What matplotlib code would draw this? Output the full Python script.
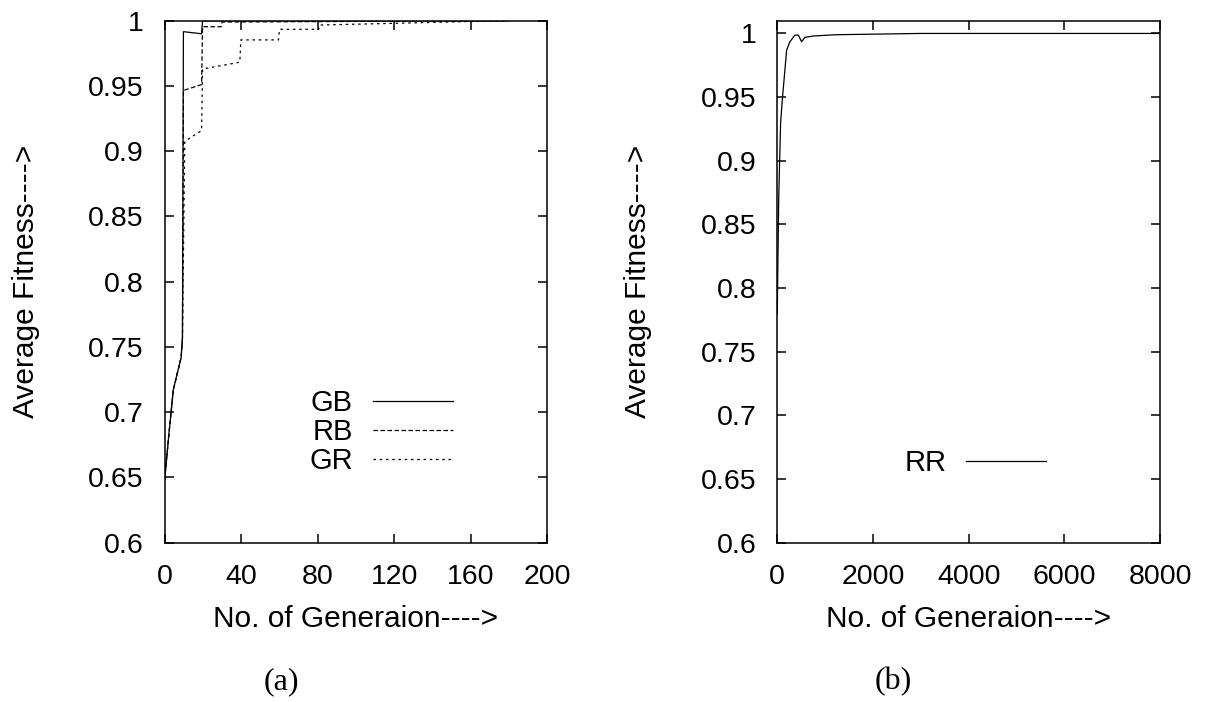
import matplotlib
matplotlib.use("Agg")
import matplotlib.pyplot as plt

# panel (a): average fitness vs generation for three crossover variants
gen_gb = [0, 2, 4.5, 8.6, 9.3, 9.8, 19.3, 19.8, 180]
fit_gb = [0.648, 0.68, 0.717, 0.742, 0.757, 0.9916, 0.990, 1.0, 1.0]

gen_rb = [0, 2, 4.5, 8.6, 9.3, 9.8, 19.3, 19.8, 29.5, 30, 180]
fit_rb = [0.648, 0.68, 0.717, 0.742, 0.757, 0.9466, 0.951, 0.9954, 0.9954, 0.999, 1.0]

gen_gr = [0, 2, 4.5, 8.6, 9.3, 10.5, 19.3, 19.8, 39.3, 39.8, 59.5, 60, 80.5, 81, 120, 148, 178]
fit_gr = [0.648, 0.68, 0.717, 0.742, 0.757, 0.9076, 0.9158, 0.963, 0.9682, 0.9853,
          0.9853, 0.9934, 0.9934, 0.9967, 0.998, 0.999, 1.0]

# panel (b): RR over the long run
gen_rr = [0, 30, 70, 110, 196, 265, 369, 440, 508, 577, 750, 1237, 3000, 8000]
fit_rr = [0.78, 0.87, 0.93, 0.95, 0.987, 0.9935, 0.9987, 0.9987, 0.9935, 0.9969, 0.998, 0.999, 1.0, 1.0]

yticks = [0.6, 0.65, 0.7, 0.75, 0.8, 0.85, 0.9, 0.95, 1.0]
ytick_labels = ["0.6", "0.65", "0.7", "0.75", "0.8", "0.85", "0.9", "0.95", "1"]
xticks_a = [0, 40, 80, 120, 160, 200]
xticks_b = [0, 2000, 4000, 6000, 8000]

plt.rcParams["font.family"] = ["Liberation Sans", "DejaVu Sans"]

fig = plt.figure(figsize=(12.09, 7.02), dpi=100)
ax1 = fig.add_axes([0.1362, 0.2269, 0.3165, 0.7436])
ax2 = fig.add_axes([0.6429, 0.2269, 0.3166, 0.7436])


def style(ax, xticks):
    for s in ax.spines.values():
        s.set_linewidth(1.1)
    ax.set_yticks(yticks)
    ax.set_yticklabels(ytick_labels)
    ax.set_xticks(xticks)
    ax.tick_params(direction="in", length=6.5, width=1.1, labelsize=20.5,
                   top=True, right=True, pad=15)
    ax.set_xlabel("No. of Generaion---->", fontsize=21.5)
    ax.set_ylabel("Average Fitness---->", fontsize=21.5)
    ax.xaxis.set_label_coords(0.5, -0.119)
    ax.yaxis.set_label_coords(-0.326, 0.5)


ax1.plot(gen_gb, fit_gb, color="black", lw=0.9, label="GB")
ax1.plot(gen_rb, fit_rb, color="black", lw=0.9, dashes=(3.6, 2), label="RB")
ax1.plot(gen_gr, fit_gr, color="black", lw=0.9, dashes=(2, 3), label="GR")
ax1.set_xlim(0, 200)
ax1.set_ylim(0.6, 1.0)
style(ax1, xticks_a)
ax1.legend(loc="center", bbox_to_anchor=(0.565, 0.212), frameon=False, fontsize=21,
           markerfirst=False, handlelength=2.74, handletextpad=0.68, labelspacing=0.03,
           borderpad=0)

ax2.plot(gen_rr, fit_rr, color="black", lw=0.9, label="RR")
ax2.set_xlim(0, 8000)
ax2.set_ylim(0.6, 1.01)
style(ax2, xticks_b)
ax2.legend(loc="center", bbox_to_anchor=(0.518, 0.152), frameon=False, fontsize=21,
           markerfirst=False, handlelength=2.74, handletextpad=0.68, borderpad=0)

fig.text(0.233, 0.029, "(a)", ha="center", va="center", fontsize=23, family="Liberation Serif")
fig.text(0.7386, 0.029, "(b)", ha="center", va="center", fontsize=23, family="Liberation Serif")

fig.savefig("out.png", dpi=100)
